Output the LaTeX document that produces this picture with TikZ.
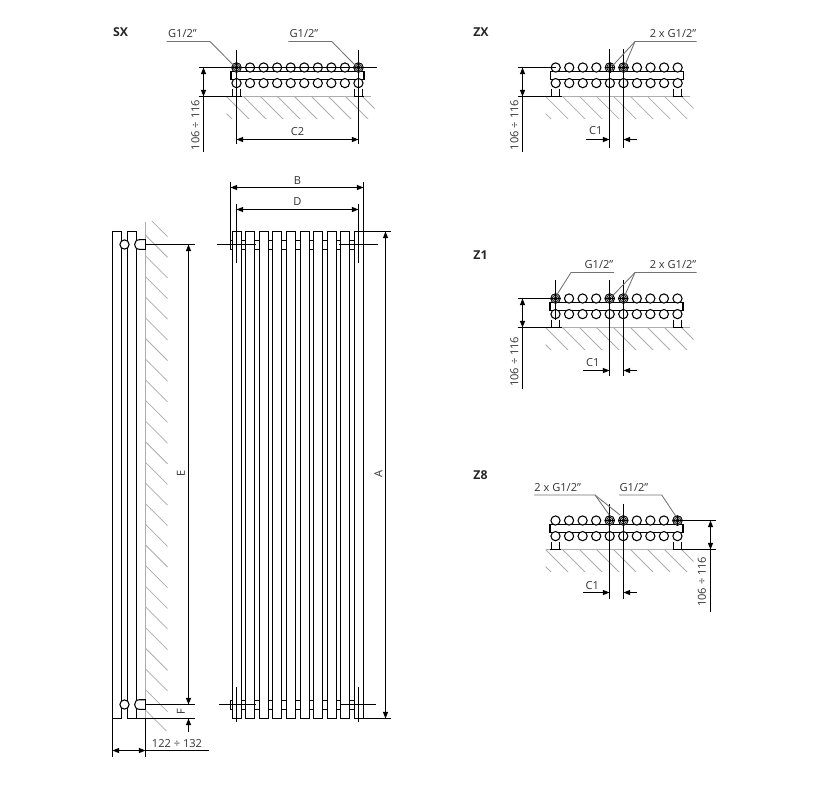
\documentclass[tikz,border=0pt]{standalone}
\usepackage{fontspec}
\setmainfont{Open Sans}
\usetikzlibrary{arrows.meta}
\definecolor{lead}{gray}{0.45}
\definecolor{hatch}{gray}{0.68}
\tikzset{
  x=0.75pt,y=-0.75pt,
  ln/.style={line width=0.8pt,black},
  thin ln/.style={line width=0.7pt,black},
  ldr/.style={line width=0.65pt,lead},
  hat/.style={line width=0.55pt,hatch},
  dim/.style={line width=0.8pt,black,{Triangle[length=5pt,width=3.8pt]}-{Triangle[length=5pt,width=3.8pt]}},
  arr/.style={line width=0.8pt,black,-{Triangle[length=5pt,width=3.8pt]}},
  lbl/.style={font=\fontsize{8.3}{9}\selectfont,text=black!80,inner sep=0pt},
  head/.style={font=\fontsize{9.2}{10}\selectfont\bfseries,text=black!85,inner sep=0pt},
}
% #1 x of first tube, #2 y of top row
\newcommand\radiatorplan[2]{%
  \begin{scope}[shift={(#1,#2)}]
    \begin{scope}
      \clip (-10,29) rectangle (138,51);
      \foreach \k in {-1,...,8}
        \draw[hat] ({-10+17*\k},29) -- ++(24,24);
    \end{scope}
    \draw[hat] (-10,29) -- (134,29);
    \draw[ln] (-5.5,4) rectangle (127.5,12);
    \draw[thin ln] (-4,21) -- (-4,29) (4,21) -- (4,29);
    \draw[thin ln] (118,21) -- (118,29) (126,21) -- (126,29);
    \draw[line width=1.2pt] (-5.5,29) -- (5.5,29) (117,29) -- (127.5,29);
    \foreach \k in {0,...,9} {
      \draw[ln,fill=white] ({13.55*\k},0) circle (4.6);
      \draw[ln,fill=white] ({13.55*\k},15.6) circle (4.6);
    }
  \end{scope}}
% connection symbol
\newcommand\connect[2]{%
  \draw[line width=0.6pt,black,fill=white] (#1,#2) circle (4.7);
  \draw[line width=0.6pt,black] (#1,#2) circle (3.2) (#1,#2) circle (1.7);
  \draw[line width=0.5pt,black] ({#1-5},#2) -- ({#1+5},#2) (#1,{#2-5}) -- (#1,{#2+5});}
\begin{document}
\begin{tikzpicture}
\useasboundingbox[fill=white] (0,0) rectangle (830,794);

%% ---- SX
\radiatorplan{236.5}{67.5}
\connect{236.5}{67.5}\connect{358.5}{67.5}
\draw[ln] (198.5,67.5) -- (376.5,67.5);
\draw[ln] (198.5,96.5) -- (241.5,96.5);
\draw[ln] (236.5,49.5) -- (236.5,143.5);
\draw[ln] (358.5,49.5) -- (358.5,143.5);
\draw[dim] (236.5,139.5) -- (358.5,139.5);
\draw[dim] (203.5,67.5) -- (203.5,96.5);
\draw[ln] (203.5,96.5) -- (203.5,152);
\draw[ldr] (166.7,41.5) -- (210,41.5) -- (235,66.7);
\draw[ldr] (288.3,41.5) -- (331.7,41.5) -- (356.7,66.7);
\node[head] (hSX) at (120.5,32.5) {SX};
\node[lbl] (sxa) at (182.5,33.5) {G1/2"};
\node[lbl] (sxb) at (304,33.5) {G1/2"};
\node[lbl] (sxc) at (297.5,131.5) {C2};
\node[lbl,rotate=90] (sxd) at (195.5,125) {106 ÷ 116};

%% ---- ZX
\radiatorplan{555.7}{67.5}
\connect{609.9}{67.5}\connect{623.5}{67.5}
\draw[ln] (517.5,67.5) -- (555.7,67.5);
\draw[ln] (517.5,96.5) -- (561.7,96.5);
\draw[ln] (609.5,49) -- (609.5,148);
\draw[ln] (623.5,49) -- (623.5,148);
\draw[arr] (586,139.5) -- (609.5,139.5);
\draw[arr] (636.7,139.5) -- (623.5,139.5);
\draw[dim] (522.5,67.5) -- (522.5,96.5);
\draw[ln] (522.5,96.5) -- (522.5,152);
\draw[ldr] (696.7,41.5) -- (635,41.5) -- (613.3,65);
\draw[ldr] (635,41.5) -- (625,65);
\node[head] (hZX) at (481,32.5) {ZX};
\node[lbl] (zxa) at (673,33.5) {2 x G1/2"};
\node[lbl] (zxc) at (595.7,131) {C1};
\node[lbl,rotate=90] (zxd) at (514.5,125) {106 ÷ 116};

%% ---- Z1
\radiatorplan{555.5}{298.5}
\connect{555.5}{298.5}\connect{609.7}{298.5}\connect{623.3}{298.5}
\draw[ln] (517.5,298.5) -- (555.5,298.5);
\draw[ln] (517.5,327.5) -- (561.7,327.5);
\draw[ln] (555.5,280) -- (555.5,320);
\draw[ln] (609.5,280) -- (609.5,376);
\draw[ln] (623.5,280) -- (623.5,376);
\draw[arr] (583.3,370.5) -- (609.5,370.5);
\draw[arr] (636.7,370.5) -- (623.5,370.5);
\draw[dim] (522.5,298.5) -- (522.5,327.5);
\draw[ln] (522.5,327.5) -- (522.5,389);
\draw[ldr] (614,272.5) -- (571,272.5) -- (556.7,295);
\draw[ldr] (696.7,272.5) -- (635,272.5) -- (613.3,295);
\draw[ldr] (635,272.5) -- (625,295);
\node[head] (hZ1) at (480.5,255.5) {Z1};
\node[lbl] (zoa) at (599,264.5) {G1/2"};
\node[lbl] (zob) at (673,264.5) {2 x G1/2"};
\node[lbl] (zoc) at (592.7,362.5) {C1};
\node[lbl,rotate=90] (zod) at (514.5,361.7) {106 ÷ 116};

%% ---- Z8
\radiatorplan{555.5}{520.5}
\connect{609.7}{520.5}\connect{623.3}{520.5}\connect{677.5}{520.5}
\draw[ln] (677.5,520.5) -- (715.5,520.5);
\draw[ln] (672.5,549.5) -- (715.5,549.5);
\draw[ln] (609.5,503.5) -- (609.5,598.5);
\draw[ln] (623.5,503.5) -- (623.5,598.5);
\draw[arr] (583.3,592.5) -- (609.5,592.5);
\draw[arr] (636.7,592.5) -- (623.5,592.5);
\draw[dim] (710.5,520.5) -- (710.5,549.5);
\draw[ln] (710.5,549.5) -- (710.5,611.7);
\draw[ldr] (534,495) -- (595,495) -- (609.3,515);
\draw[ldr] (595,495) -- (620,515);
\draw[ldr] (619,495) -- (661.7,495) -- (675.7,516);
\node[head] (hZ8) at (480.5,475.5) {Z8};
\node[lbl] (zea) at (557.7,487.5) {2 x G1/2"};
\node[lbl] (zeb) at (634,487.5) {G1/2"};
\node[lbl] (zec) at (592.3,586) {C1};
\node[lbl,rotate=90] (zed) at (702,581.7) {106 ÷ 116};

%% ---- side view
\begin{scope}
  \clip (145,221.7) rectangle (168,730);
  \foreach \k in {0,...,24}
    \draw[hat] (145.5,{214.6+20.65*\k}) -- ++(22,22);
\end{scope}
\draw[hat] (145.5,221.7) -- (145.5,718.5);
\draw[ln] (112.5,718.5) -- (112.5,231.5) -- (121.5,231.5) -- (121.5,718.5);
\draw[ln] (127.5,718.5) -- (127.5,231.5) -- (136.5,231.5) -- (136.5,718.5);
\draw[ln] (112.5,718.5) -- (121.5,718.5);
\draw[ln] (127.5,718.5) -- (195,718.5);
\foreach \yy in {244.5,704.5} {
  \draw[ln,fill=white] (124.5,\yy) circle (4.6);
  \draw[ln,fill=white] (145.5,{\yy-4.8}) -- (139.5,{\yy-4.8})
     .. controls (133,{\yy-4.8}) and (133,{\yy+4.8}) .. (139.5,{\yy+4.8}) -- (145.5,{\yy+4.8});
  \draw[line width=1.3pt] (145.5,{\yy-5.2}) -- (145.5,{\yy+5.2});
  \draw[ln] (145.5,\yy) -- (195,\yy);
}
\draw[dim] (188.5,244.5) -- (188.5,704.5);
\draw[arr] (188.5,731.7) -- (188.5,718.5);
\draw[ln] (112.5,718.5) -- (112.5,757);
\draw[ln] (145.5,718.5) -- (145.5,757);
\draw[dim] (112.5,750.5) -- (145.5,750.5);
\draw[ln] (145.5,750.5) -- (209,750.5);
\node[lbl,rotate=90] (lE) at (181,473) {E};
\node[lbl,rotate=90] (lF) at (181,711.5) {F};
\node[lbl] (lS) at (177,744) {122 ÷ 132};

%% ---- front view
\foreach \k in {0,...,9} {
  \pgfmathsetmacro\xa{floor(232.3+13.55*\k)+0.5}
  \pgfmathsetmacro\xb{\xa+9}
  \draw[ln] (\xa,231.5) rectangle (\xb,718.5);
}
\foreach \k in {0,...,8} {
  \pgfmathsetmacro\xa{floor(232.3+13.55*\k)+9.5}
  \pgfmathsetmacro\xb{floor(232.3+13.55*(\k+1))+0.5}
  \draw[ln] (\xa,240.5) -- (\xb,240.5) (\xa,249.5) -- (\xb,249.5);
  \draw[ln] (\xa,700.5) -- (\xb,700.5) (\xa,709.5) -- (\xb,709.5);
}
\draw[ln] (232.5,240.5) -- (230.5,240.5) (232.5,249.5) -- (230.5,249.5);
\draw[ln] (232.5,700.5) -- (230.5,700.5) -- (230.5,709.5) -- (232.5,709.5);
\draw[line width=1.2pt] (363.5,700.5) -- (363.5,709.5);
\draw[ln] (230.5,182) -- (230.5,250);
\draw[ln] (363.5,182) -- (363.5,250);
\draw[dim] (230.5,187.5) -- (363.5,187.5);
\draw[ln] (236.5,204) -- (236.5,263);
\draw[ln] (358.5,204) -- (358.5,263);
\draw[dim] (236.5,209.5) -- (358.5,209.5);
\draw[ln] (217,244.5) -- (255.7,244.5);
\draw[ln] (339,244.5) -- (377.7,244.5);
\draw[ln] (219,704.5) -- (255.7,704.5);
\draw[ln] (340.7,704.5) -- (376,704.5);
\draw[ln] (236.5,686.7) -- (236.5,722.3);
\draw[ln] (358.5,686.7) -- (358.5,722.3);
\draw[ln] (362.5,231.5) -- (391,231.5);
\draw[ln] (362.5,718.5) -- (391,718.5);
\draw[dim] (385.5,231.5) -- (385.5,718.5);
\node[lbl] (lB) at (297.5,180.5) {B};
\node[lbl] (lD) at (297.5,201.5) {D};
\node[lbl,rotate=90] (lA) at (378.5,473.5) {A};
\end{tikzpicture}
\end{document}
